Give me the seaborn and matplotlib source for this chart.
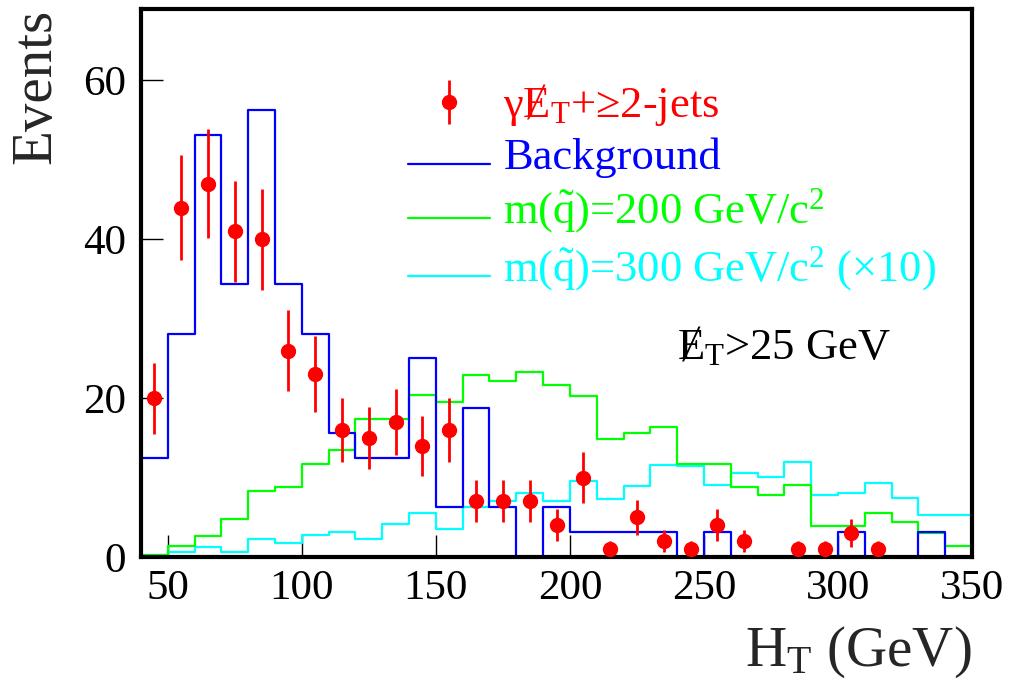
import numpy as np
import pandas as pd
import matplotlib
matplotlib.use("Agg")
import matplotlib.pyplot as plt
import seaborn as sns
from matplotlib.legend_handler import HandlerLine2D

# ---- data ----
bin_edges = list(range(40, 360, 10))
bin_centers = [e + 5 for e in bin_edges[:-1]]
data_counts = [20, 44, 47, 41, 40, 26, 23, 16, 15, 17, 14, 16, 7, 7, 7, 4, 10, 1, 5, 2,
               1, 4, 2, 0, 1, 1, 3, 1, 0, 0, 0]
background = [12.5, 28.1, 53.1, 34.4, 56.3, 34.4, 28.1, 15.6, 12.5, 12.5, 25.0, 6.3, 18.8,
              6.3, 0.0, 6.3, 3.1, 3.1, 3.1, 3.1, 0.0, 3.1, 0.0, 0.0, 0.0, 0.0, 3.1, 0.0,
              0.0, 3.1, 0.0]
sq200 = [0.3, 1.35, 2.7, 4.8, 8.3, 8.8, 11.7, 13.5, 17.4, 17.4, 20.4, 19.5, 22.9, 22.1,
         23.3, 21.7, 20.3, 14.8, 15.6, 16.4, 11.7, 11.7, 8.8, 7.8, 9.1, 3.95, 3.95, 5.6,
         4.4, 3.0, 1.4]
sq300x10 = [0.2, 0.6, 1.2, 0.6, 2.3, 1.8, 2.8, 3.2, 2.3, 4.1, 5.5, 3.5, 6.3, 7.1, 8.1,
            7.1, 9.6, 7.3, 8.9, 11.6, 11.4, 9.1, 10.6, 10.1, 11.9, 7.8, 8.1, 9.3, 7.4,
            5.3, 5.3]
x_ticks = [50, 100, 150, 200, 250, 300, 350]
y_ticks = [0, 20, 40, 60]

label_data = "γɆ${}_{\\mathrm{T}}$+≥2-jets"
label_bkg = "Background"
label_200 = "m($\\tilde{\\mathrm{q}}$)=200 GeV/c$^{2}$"
label_300 = "m($\\tilde{\\mathrm{q}}$)=300 GeV/c$^{2}$ (×10)"

# ---- style ----
sns.set_theme(style="ticks")
plt.rcParams["font.family"] = ["Liberation Serif", "DejaVu Serif"]
plt.rcParams["mathtext.fontset"] = "custom"
plt.rcParams["mathtext.rm"] = "Liberation Serif"
plt.rcParams["mathtext.it"] = "Liberation Serif:italic"
plt.rcParams["mathtext.bf"] = "Liberation Serif:bold"

fig = plt.figure(figsize=(10.13, 6.81), dpi=100)
ax = fig.add_axes([141 / 1013, 1 - 557 / 681, (972 - 141) / 1013, (557 - 9) / 681])

df = pd.DataFrame({"ht": bin_centers, "bkg": background, "s200": sq200, "s300": sq300x10})

lw = 1.6
sns.histplot(data=df, x="ht", weights="s300", bins=bin_edges, element="step", fill=False,
             color="#00ffff", linewidth=lw, ax=ax, label=label_300)
sns.histplot(data=df, x="ht", weights="s200", bins=bin_edges, element="step", fill=False,
             color="#00ff00", linewidth=lw, ax=ax, label=label_200)
sns.histplot(data=df, x="ht", weights="bkg", bins=bin_edges, element="step", fill=False,
             color="#0000ff", linewidth=lw, ax=ax, label=label_bkg)

dd = pd.DataFrame({"ht": bin_centers, "n": data_counts})
dd = dd[dd["n"] > 0]
eb = ax.errorbar(dd["ht"], dd["n"], yerr=np.sqrt(dd["n"]), fmt="o", color="#ff0000",
                 markersize=10, elinewidth=2, capsize=0, label=label_data, zorder=5)

ax.set_xlim(40, 350)
ax.set_ylim(0, 69)
ax.set_xticks(x_ticks)
ax.set_yticks(y_ticks)
ax.tick_params(axis="both", direction="in", length=16, width=1, color="black",
               labelsize=31, labelcolor="black")
ax.tick_params(axis="x", pad=9)
ax.tick_params(axis="y", pad=11)
for s in ax.spines.values():
    s.set_visible(True)
    s.set_linewidth(3)
    s.set_color("black")

ax.set_xlabel("H$_{\\mathrm{T}}$ (GeV)", fontsize=41, loc="right", labelpad=12)
ax.set_ylabel("Events", fontsize=41, loc="top", labelpad=15)

ax.text(0.645, 0.362, "Ɇ${}_{\\mathrm{T}}$>25 GeV", transform=ax.transAxes,
        fontsize=32, va="baseline", ha="left", color="black")


class BaselineLine(HandlerLine2D):
    """Legend key drawn at the text baseline instead of the row centre."""
    def create_artists(self, legend, orig_handle, xdescent, ydescent, width, height,
                       fontsize, trans):
        arts = super().create_artists(legend, orig_handle, xdescent, ydescent, width,
                                      height, fontsize, trans)
        for a in arts:
            y = np.asarray(a.get_ydata(), dtype=float)
            a.set_ydata(y - 0.24 * fontsize)
        return arts


handles, labels = ax.get_legend_handles_labels()
order = [label_data, label_bkg, label_200, label_300]
hmap = dict(zip(labels, handles))
colors = ["#ff0000", "#0000ff", "#00ff00", "#00ffff"]
line_handles = {h: BaselineLine() for l, h in hmap.items() if l != label_data}
leg = ax.legend([hmap[l] for l in order], order, loc="upper left",
                bbox_to_anchor=(0.321, 0.866), frameon=False, fontsize=32,
                handlelength=1.85, handletextpad=0.3, labelspacing=0.2,
                borderaxespad=0, borderpad=0, handler_map=line_handles)
for t, c in zip(leg.get_texts(), colors):
    t.set_color(c)

fig.savefig("out.png", dpi=100)
